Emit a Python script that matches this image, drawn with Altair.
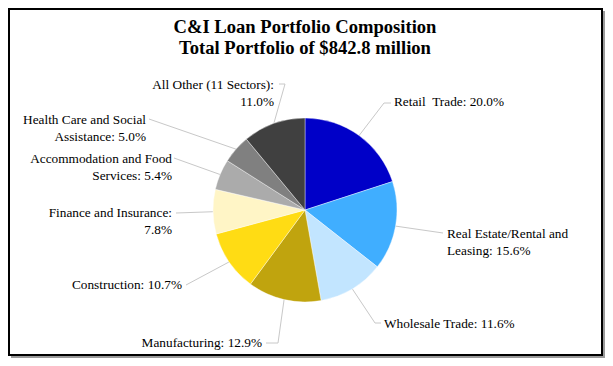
import math
import altair as alt
import pandas as pd

# ---- data ----
sectors = ["Retail\u00a0 Trade", "Real Estate/Rental and\nLeasing", "Wholesale Trade",
           "Manufacturing", "Construction", "Finance and Insurance",
           "Accommodation and Food\nServices", "Health Care and Social\nAssistance",
           "All Other (11 Sectors)"]
values = [20.0, 15.6, 11.6, 12.9, 10.7, 7.8, 5.4, 5.0, 11.0]
colors = ["#0000C8", "#40AEFF", "#C2E5FF", "#C0A40E", "#FFDC14", "#FFF5C6",
          "#ABABAB", "#808080", "#404040"]
separators = [": ", ": ", ": ", ": ", ": ", ":\n", ": ", ": ", ":\n"]
title_lines = ["C&I Loan Portfolio Composition", "Total Portfolio of $842.8 million"]

# ---- layout (image pixels) ----
OFF = 8
CX, CY, R = 305 - OFF, 210 - OFF, 92
label_x = [394, 447, 384, 262, 182, 172, 172, 146, 274]
label_y = [102, 234, 324, 343, 285, 213, 159, 120, 85]
label_align = ["left", "left", "left", "right", "right", "right", "right", "right", "right"]
leader_ends = [[(384, 103), (391, 103)], [(443, 233)], [(375, 323), (381, 323)],
               [(278, 343), (266, 343)], [(186, 285)], [(176, 213)], [(174, 158)],
               [(149, 119)], [(285, 84), (279, 84)]]

FONT = "Liberation Serif"
W, H = 594, 347

total = sum(values)
pie_df = pd.DataFrame({"idx": range(len(values)), "sector": sectors,
                       "value": values, "color": colors})

labels = []
leaders = []
cum = 0.0
for i, (s, v) in enumerate(zip(sectors, values)):
    mid = (cum + v / 2) / total * 2 * math.pi
    cum += v
    sx = CX + R * math.sin(mid)
    sy = CY - R * math.cos(mid)
    pts = [(sx, sy)] + [(px - OFF, py - OFF) for px, py in leader_ends[i]]
    for k, (px, py) in enumerate(pts):
        leaders.append({"cat": i, "ord": k, "x": px, "y": py})
    labels.append({"cat": i, "text": f"{s}{separators[i]}{v:.1f}%",
                   "x": label_x[i] - OFF, "y": label_y[i] - OFF,
                   "align": label_align[i]})
lab_df = pd.DataFrame(labels)
lead_df = pd.DataFrame(leaders)

dummy = pd.DataFrame({"a": [0]})
shadow = alt.Chart(dummy).mark_rect(color="#9a9a9a").encode(
    x=alt.value(3), x2=alt.value(W + 3), y=alt.value(3), y2=alt.value(H + 3))
frame = alt.Chart(dummy).mark_rect(fill="white", stroke="black", strokeWidth=2).encode(
    x=alt.value(1), x2=alt.value(W), y=alt.value(1), y2=alt.value(H))

pie = alt.Chart(pie_df).mark_arc(outerRadius=R, stroke="white", strokeWidth=0.4).encode(
    theta=alt.Theta("value:Q", stack=True),
    order=alt.Order("idx:Q"),
    color=alt.Color("color:N", scale=None),
    x=alt.value(CX), y=alt.value(CY))

lead = alt.Chart(lead_df).mark_line(color="#C8C8C8", strokeWidth=1).encode(
    x=alt.X("x:Q", scale=None), y=alt.Y("y:Q", scale=None),
    detail="cat:N", order="ord:Q")

def text_layer(align):
    return alt.Chart(lab_df[lab_df["align"] == align]).mark_text(
        align=align, baseline="middle", font=FONT, fontSize=13.3, lineBreak="\n",
        lineHeight=16.5, color="black").encode(
        x=alt.X("x:Q", scale=None), y=alt.Y("y:Q", scale=None), text="text:N")

title_df = pd.DataFrame({"t": title_lines, "y": [27 - OFF, 48 - OFF]})
title = alt.Chart(title_df).mark_text(
    font=FONT, fontSize=18.6, fontWeight="bold", align="center", baseline="middle",
    color="black").encode(x=alt.value(305 - OFF), y=alt.Y("y:Q", scale=None), text="t:N")

chart = alt.layer(shadow, frame, lead, pie, text_layer("left"), text_layer("right"),
                  title).properties(
    width=W, height=H,
    padding={"left": 0, "top": 0, "right": 3, "bottom": 3},
    autosize=alt.AutoSizeParams(type="none"),
).configure_view(stroke=None)

chart.save("out.html", embed_options={"renderer": "svg", "actions": False})
